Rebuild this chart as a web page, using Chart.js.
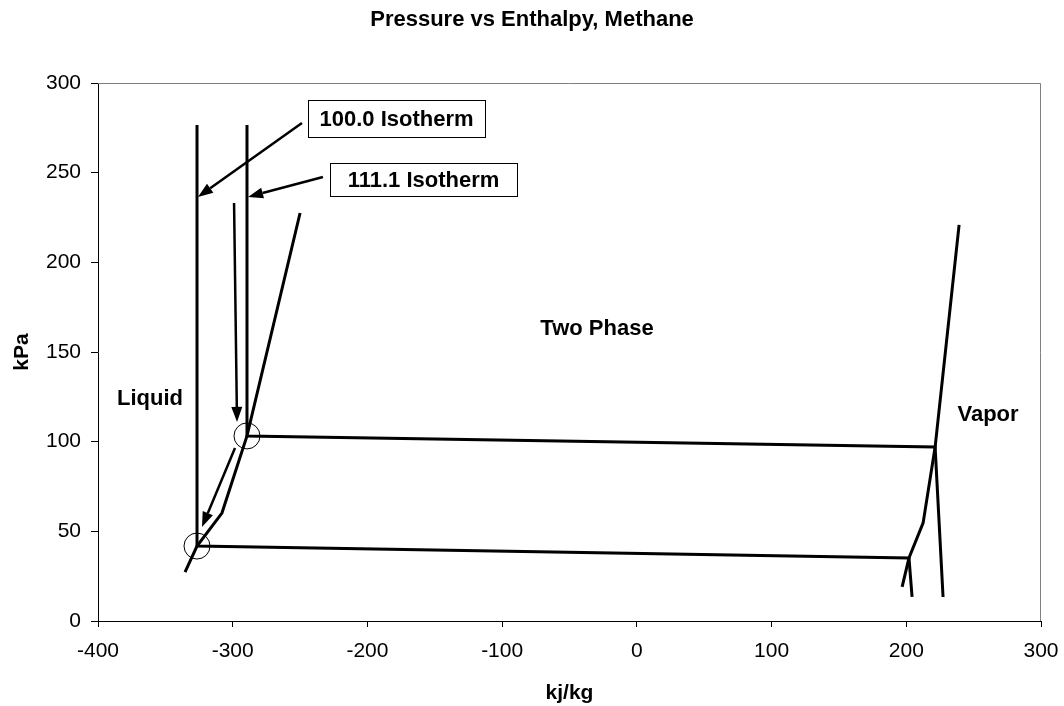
<!DOCTYPE html>
<html>
<head>
<meta charset="utf-8">
<script src="https://cdn.jsdelivr.net/npm/chart.js@4/dist/chart.umd.min.js"></script>
<style>
  html, body { margin: 0; padding: 0; background: #fff; }
  #wrap { width: 1064px; height: 706px; }
</style>
</head>
<body>
<div id="wrap"><canvas id="phChart" width="1064" height="706"></canvas></div>
<script>
// saturated liquid curve (enthalpy kj/kg, pressure kPa)
var liqH = [-335.4, -326.5, -308, -289.4, -250];
var liqP = [27.3, 41.8, 60.2, 103.2, 227.5];
// saturated vapor curve
var vapH = [196.9, 202, 212.5, 221.4, 239.2];
var vapP = [19, 35.1, 54.7, 97, 220.9];
// isotherms: liquid leg, across the dome, vapor leg
var iso100H = [-326.5, -326.5, 202, 204.3];
var iso100P = [276.6, 41.8, 35.1, 13.4];
var iso111H = [-289.4, -289.4, 221.4, 227.3];
var iso111P = [276.6, 103.2, 97, 13.4];
// bubble points marked with circles
var bubbleH = [-326.5, -289.4];
var bubbleP = [41.8, 103.2];

var xTicks = [-400, -300, -200, -100, 0, 100, 200, 300];
var yTicks = [0, 50, 100, 150, 200, 250, 300];

// callout arrows [h1, p1, h2, p2], arrowhead at the second point
var arrows = [
  [-248.6, 277.7, -325.8, 236.5],
  [-233, 247.6, -288.6, 236.5],
  [-299, 233.1, -296.8, 111],
  [-298.3, 96.5, -322.8, 52.4]
];
// text labels placed in data units; boxed ones get a frame of the given size
var notes = [
  {text: '100.0 Isotherm', h: -178.4, p: 280.2, box: [177, 37]},
  {text: '111.1 Isotherm', h: -158.4, p: 246.2, box: [187, 33]},
  {text: 'Two Phase', h: -29.6, p: 163.4},
  {text: 'Liquid', h: -361.4, p: 124.4},
  {text: 'Vapor', h: 260.7, p: 115.4}
];

function pts(xs, ys) {
  return xs.map(function (x, i) { return {x: x, y: ys[i]}; });
}

var FONT = "Arial, 'Liberation Sans', sans-serif";

function lineSet(xs, ys) {
  return {
    data: pts(xs, ys),
    showLine: true,
    borderColor: '#000',
    borderWidth: 3,
    pointRadius: 0,
    tension: 0,
    fill: false
  };
}

var extras = {
  id: 'extras',
  beforeDraw: function (chart) {
    var c = chart.ctx;
    c.save();
    c.fillStyle = '#fff';
    c.fillRect(0, 0, chart.width, chart.height);
    // chart title
    c.fillStyle = '#000';
    c.font = 'bold 22px ' + FONT;
    c.textAlign = 'center';
    c.textBaseline = 'middle';
    c.fillText('Pressure vs Enthalpy, Methane', 532, 20);
    c.restore();
  },
  afterDatasetsDraw: function (chart) {
    var c = chart.ctx, xs = chart.scales.x, ys = chart.scales.y, a = chart.chartArea;
    c.save();
    // plot frame, top and right in grey
    c.strokeStyle = '#808080';
    c.lineWidth = 1;
    c.beginPath();
    c.moveTo(a.left, a.top + 0.5);
    c.lineTo(a.right - 0.5, a.top + 0.5);
    c.lineTo(a.right - 0.5, a.bottom);
    c.stroke();

    c.strokeStyle = '#000';
    c.fillStyle = '#000';
    arrows.forEach(function (r) {
      var x1 = xs.getPixelForValue(r[0]), y1 = ys.getPixelForValue(r[1]);
      var x2 = xs.getPixelForValue(r[2]), y2 = ys.getPixelForValue(r[3]);
      var ang = Math.atan2(y2 - y1, x2 - x1), len = 15, w = 5.5;
      var bx = x2 - Math.cos(ang) * len, by = y2 - Math.sin(ang) * len;
      c.lineWidth = 2.5;
      c.beginPath();
      c.moveTo(x1, y1);
      c.lineTo(bx, by);
      c.stroke();
      c.beginPath();
      c.moveTo(x2, y2);
      c.lineTo(bx + Math.sin(ang) * w, by - Math.cos(ang) * w);
      c.lineTo(bx - Math.sin(ang) * w, by + Math.cos(ang) * w);
      c.closePath();
      c.fill();
    });

    c.font = 'bold 22px ' + FONT;
    c.textAlign = 'center';
    c.textBaseline = 'middle';
    notes.forEach(function (n) {
      var x = xs.getPixelForValue(n.h), y = ys.getPixelForValue(n.p);
      if (n.box) {
        var bw = n.box[0], bh = n.box[1];
        c.fillStyle = '#fff';
        c.fillRect(x - bw / 2, y - bh / 2, bw, bh);
        c.lineWidth = 1;
        c.strokeStyle = '#000';
        c.strokeRect(Math.round(x - bw / 2) + 0.5, Math.round(y - bh / 2) + 0.5, bw, bh);
      }
      c.fillStyle = '#000';
      c.fillText(n.text, x, y + 1);
    });
    c.restore();
  }
};

new Chart(document.getElementById('phChart'), {
  type: 'scatter',
  data: {
    datasets: [
      lineSet(liqH, liqP),
      lineSet(vapH, vapP),
      lineSet(iso100H, iso100P),
      lineSet(iso111H, iso111P),
      {
        data: pts(bubbleH, bubbleP),
        showLine: false,
        pointRadius: 13,
        pointBorderWidth: 1,
        pointBorderColor: '#000',
        pointBackgroundColor: 'rgba(0,0,0,0)'
      }
    ]
  },
  options: {
    responsive: false,
    animation: false,
    events: [],
    layout: { padding: { left: 0, right: 23, top: 83, bottom: 0 } },
    plugins: {
      legend: { display: false },
      tooltip: { enabled: false },
      title: { display: false }
    },
    scales: {
      x: {
        type: 'linear',
        min: -400, max: 300,
        afterBuildTicks: function (s) { s.ticks = xTicks.map(function (v) { return {value: v}; }); },
        afterFit: function (s) { s.height = 85; s.paddingLeft = 0; s.paddingRight = 0; },
        grid: { drawOnChartArea: false, drawTicks: true, tickLength: 6, color: '#000' },
        border: { display: true, color: '#000', width: 1 },
        ticks: { color: '#000', padding: 12, maxRotation: 0, font: { family: FONT, size: 21 } },
        title: { display: true, text: 'kj/kg', color: '#000', padding: { top: 1, bottom: 0 }, font: { family: FONT, size: 21, weight: 'bold' } }
      },
      y: {
        type: 'linear',
        min: 0, max: 300,
        afterBuildTicks: function (s) { s.ticks = yTicks.map(function (v) { return {value: v}; }); },
        afterFit: function (s) { s.width = 98; s.paddingTop = 0; s.paddingBottom = 0; },
        grid: { drawOnChartArea: false, drawTicks: true, tickLength: 7, color: '#000' },
        border: { display: true, color: '#000', width: 1 },
        ticks: { color: '#000', padding: 10, font: { family: FONT, size: 21 } },
        title: { display: true, text: 'kPa', color: '#000', padding: { top: 10, bottom: 0 }, font: { family: FONT, size: 21, weight: 'bold' } }
      }
    }
  },
  plugins: [extras]
});
</script>
</body>
</html>
